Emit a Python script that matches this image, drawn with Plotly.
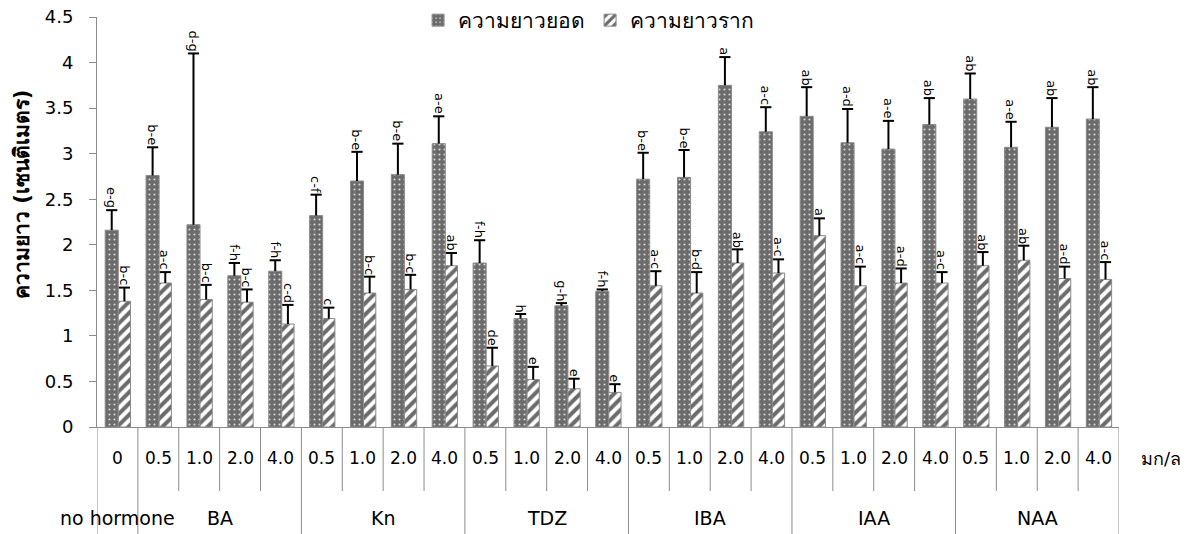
import plotly.graph_objects as go

# Doses (mg/l) per treatment group
groups = ["no hormone", "BA", "Kn", "TDZ", "IBA", "IAA", "NAA"]
group_doses = [
    ["0"],
    ["0.5", "1.0", "2.0", "4.0"],
    ["0.5", "1.0", "2.0", "4.0"],
    ["0.5", "1.0", "2.0", "4.0"],
    ["0.5", "1.0", "2.0", "4.0"],
    ["0.5", "1.0", "2.0", "4.0"],
    ["0.5", "1.0", "2.0", "4.0"],
]

# Shoot length (cm), mean and SE
shoot = [2.16, 2.76, 2.22, 1.66, 1.71,
         2.32, 2.70, 2.77, 3.11,
         1.80, 1.19, 1.33, 1.49,
         2.72, 2.74, 3.75, 3.24,
         3.41, 3.12, 3.05, 3.32,
         3.60, 3.07, 3.29, 3.38]
shoot_err = [0.22, 0.31, 1.88, 0.14, 0.12,
             0.23, 0.32, 0.34, 0.30,
             0.25, 0.05, 0.03, 0.02,
             0.29, 0.30, 0.31, 0.27,
             0.32, 0.37, 0.31, 0.29,
             0.28, 0.28, 0.32, 0.35]
shoot_sig = ["e-g", "b-e", "d-g", "f-h", "f-h",
             "c-f", "b-e", "b-e", "a-e",
             "f-h", "h", "g-h", "f-h",
             "b-e", "b-e", "a", "a-c",
             "ab", "a-d", "a-e", "ab",
             "ab", "a-e", "ab", "ab"]

# Root length (cm), mean and SE
root = [1.38, 1.58, 1.40, 1.37, 1.13,
        1.19, 1.47, 1.51, 1.77,
        0.67, 0.52, 0.42, 0.38,
        1.55, 1.47, 1.80, 1.69,
        2.10, 1.55, 1.58, 1.58,
        1.77, 1.83, 1.63, 1.62]
root_err = [0.15, 0.12, 0.16, 0.14, 0.21,
            0.12, 0.18, 0.16, 0.14,
            0.20, 0.14, 0.11, 0.09,
            0.16, 0.23, 0.15, 0.15,
            0.19, 0.21, 0.16, 0.12,
            0.15, 0.16, 0.13, 0.19]
root_sig = ["b-c", "a-c", "b-c", "b-c", "c-d",
            "c", "b-c", "b-c", "ab",
            "de", "e", "e", "e",
            "a-c", "b-d", "ab", "a-c",
            "a", "a-c", "a-d", "a-c",
            "ab", "ab", "a-d", "a-c"]

doses = [d for g in group_doses for d in g]
pos = list(range(len(doses)))

DARK = "#6b6b6b"
EDGE = "#8a8a8a"
AXIS = "#8c8c8c"
FONT = "DejaVu Sans, Tahoma, sans-serif"

SHOOT_OFF, SHOOT_W = -0.30, 0.32
ROOT_OFF, ROOT_W = 0.02, 0.30
shoot_x = [p + SHOOT_OFF + SHOOT_W / 2 for p in pos]
root_x = [p + ROOT_OFF + ROOT_W / 2 for p in pos]

fig = go.Figure()

fig.add_trace(go.Bar(
    name="ความยาวยอด", x=pos, y=shoot, offset=SHOOT_OFF, width=SHOOT_W,
    marker=dict(color=DARK, line=dict(color=EDGE, width=1),
                pattern=dict(shape=".", fgcolor="#d4d4d4", bgcolor=DARK,
                             size=5, solidity=0.15, fillmode="replace")),
    error_y=dict(type="data", array=shoot_err, arrayminus=[0] * len(shoot),
                 symmetric=False, color="black", thickness=2, width=0),
))
fig.add_trace(go.Bar(
    name="ความยาวราก", x=pos, y=root, offset=ROOT_OFF, width=ROOT_W,
    marker=dict(color="white", line=dict(color=EDGE, width=1),
                pattern=dict(shape="/", fgcolor=DARK, bgcolor="white",
                             size=8, solidity=0.5, fillmode="replace")),
    error_y=dict(type="data", array=root_err, arrayminus=[0] * len(root),
                 symmetric=False, color="black", thickness=2, width=0),
))

# error bar caps
for xs, ys, es in [(shoot_x, shoot, shoot_err), (root_x, root, root_err)]:
    fig.add_trace(go.Scatter(
        x=xs, y=[v + e for v, e in zip(ys, es)], mode="markers",
        marker=dict(symbol="line-ew", size=8, line=dict(color="black", width=2)),
        showlegend=False, hoverinfo="skip",
    ))

annotations = []
# significance letters above the error bars
for xs, ys, es, sig in [(shoot_x, shoot, shoot_err, shoot_sig),
                        (root_x, root, root_err, root_sig)]:
    for x, v, e, s in zip(xs, ys, es, sig):
        annotations.append(dict(
            x=x, y=v + e, xref="x", yref="y", text=s, textangle=90,
            showarrow=False, xanchor="center", yanchor="bottom", yshift=0,
            font=dict(family=FONT, size=13, color="black"),
        ))

PLOT_H = 410.0
def py(px_below):
    return -px_below / PLOT_H

shapes = []
# dose labels and separators
for p, d in zip(pos, doses):
    annotations.append(dict(
        x=p, y=py(31), xref="x", yref="paper", text=d, showarrow=False,
        xanchor="center", yanchor="middle",
        font=dict(family=FONT, size=17, color="black"),
    ))

start = 0
bounds = [-0.5]
for g, ds in zip(groups, group_doses):
    n = len(ds)
    end = start + n
    bounds.append(end - 0.5)
    for k in range(start, end - 1):
        shapes.append(dict(type="line", xref="x", yref="paper",
                           x0=k + 0.5, x1=k + 0.5, y0=0, y1=py(64),
                           line=dict(color=AXIS, width=1)))
    annotations.append(dict(
        x=(start + end - 1) / 2, y=py(91), xref="x", yref="paper", text=g,
        showarrow=False, xanchor="center", yanchor="middle",
        font=dict(family=FONT, size=19, color="black"),
    ))
    start = end
for b in bounds:
    shapes.append(dict(type="line", xref="x", yref="paper",
                       x0=b, x1=b, y0=0, y1=py(115),
                       line=dict(color=AXIS, width=1)))

# unit label
annotations.append(dict(
    x=1.0, y=py(31), xref="paper", yref="paper", text="มก/ล", showarrow=False,
    xanchor="left", yanchor="middle", xshift=20,
    font=dict(family=FONT, size=18, color="black"),
))
# y-axis title
annotations.append(dict(
    x=-75 / 1022, y=0.568, xref="paper", yref="paper",
    text="<b>ความยาว (เซนติเมตร)</b>", textangle=-90, showarrow=False,
    xanchor="center", yanchor="middle",
    font=dict(family=FONT, size=21, color="black"),
))

fig.update_layout(
    width=1192, height=534,
    margin=dict(l=97, r=73, t=17, b=107, autoexpand=False),
    paper_bgcolor="white", plot_bgcolor="white",
    barmode="overlay",
    showlegend=True,
    legend=dict(orientation="h", x=0.481, xanchor="center",
                yref="container", y=1.0, yanchor="top",
                font=dict(family=FONT, size=21, color="black"),
                bgcolor="rgba(0,0,0,0)", itemwidth=30, borderwidth=0),
    xaxis=dict(range=[-0.5, len(doses) - 0.5], showticklabels=False, ticks="",
               showgrid=False, zeroline=False, showline=True, linecolor=AXIS,
               linewidth=1, fixedrange=True),
    yaxis=dict(range=[0, 4.5], tickvals=[0, 0.5, 1, 1.5, 2, 2.5, 3, 3.5, 4, 4.5],
               ticktext=["0", "0.5", "1", "1.5", "2", "2.5", "3", "3.5", "4", "4.5"],
               ticks="outside", ticklen=7, tickcolor=AXIS, showgrid=False,
               zeroline=False, showline=True, linecolor=AXIS, linewidth=1,
               ticklabelstandoff=12,
               tickfont=dict(family=FONT, size=18, color="black")),
    shapes=shapes,
    annotations=annotations,
)

fig.write_html("out.html")
